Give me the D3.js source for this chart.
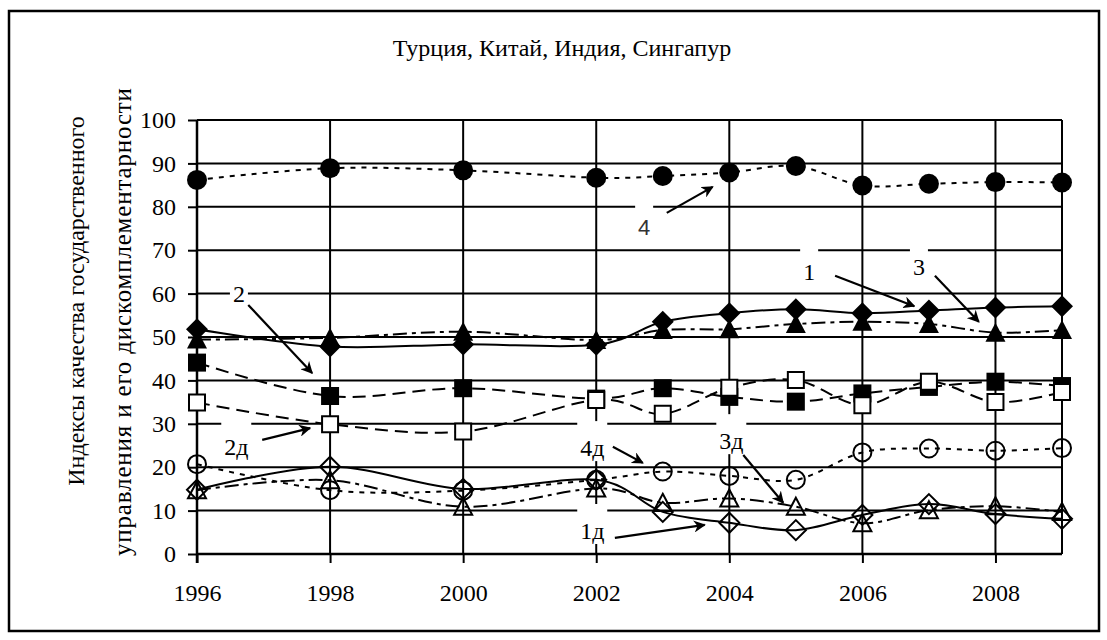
<!DOCTYPE html>
<html>
<head>
<meta charset="utf-8">
<script src="https://cdn.jsdelivr.net/npm/d3@7"></script>
<style>
  body { margin: 0; background: #fff; }
  text { font-family: "Liberation Serif", "Times New Roman", serif; fill: #000; }
</style>
</head>
<body>
<div id="chart"></div>
<script>
// Chart data
const years = [1996, 1998, 2000, 2002, 2003, 2004, 2005, 2006, 2007, 2008, 2009]
const s1 = [51.8, 47.8, 48.3, 48.2, 53.5, 55.5, 56.4, 55.5, 56.1, 56.8, 57.1]
const s2 = [44.1, 36.4, 38.2, 35.8, 38.2, 36.2, 35.1, 37.0, 38.5, 39.7, 38.7]
const s3 = [49.4, 49.8, 51.2, 49.3, 51.6, 51.8, 53.0, 53.5, 53.0, 51.0, 51.6]
const s4 = [86.2, 88.9, 88.4, 86.7, 87.1, 87.9, 89.4, 84.9, 85.3, 85.7, 85.6]
const d1 = [14.8, 20.1, 15.0, 17.1, 9.7, 7.2, 5.5, 9.0, 11.5, 9.2, 8.1]
const d2 = [34.9, 29.9, 28.2, 35.5, 32.3, 38.3, 40.1, 34.3, 39.7, 35.0, 37.3]
const d3v = [14.7, 17.0, 10.9, 15.1, 11.8, 12.8, 10.9, 7.1, 10.1, 11.0, 9.7]
const d4 = [20.7, 14.7, 14.6, 17.1, 19.0, 18.0, 17.1, 23.4, 24.3, 23.8, 24.4]

const yTicks = [0, 10, 20, 30, 40, 50, 60, 70, 80, 90, 100]
const xTicks = [1996, 1998, 2000, 2002, 2004, 2006, 2008]

const title = 'Турция, Китай, Индия, Сингапур'
const yTitle = ['Индексы качества государственного', 'управления и его дискомплементарности']

// label text, label position (year, value), arrow start and end (year, value)
const notes = [
  { t: '2', at: [1996.63, 59.9], from: [1996.77, 57.4], to: [1997.73, 41.7] },
  { t: '2д', at: [1996.59, 24.7], from: [1996.98, 26.3], to: [1997.70, 29.0] },
  { t: '4', at: [2002.72, 75.3], from: [2003.06, 78.6], to: [2003.75, 84.6], sans: true },
  { t: '1', at: [2005.20, 65.0], from: [2005.59, 64.1], to: [2006.78, 57.1] },
  { t: '3', at: [2006.85, 66.1], from: [2007.09, 64.1], to: [2007.75, 53.5] },
  { t: '4д', at: [2001.94, 24.4], from: [2002.25, 24.7], to: [2002.70, 21.0] },
  { t: '3д', at: [2004.03, 26.0], from: [2004.21, 22.8], to: [2004.81, 11.8] },
  { t: '1д', at: [2001.94, 5.3], from: [2002.28, 3.7], to: [2003.63, 6.7] }
]

const width = 1107
const height = 640

const svg = d3.select('#chart')
  .append('svg')
  .attr('width', width)
  .attr('height', height)

// outer frame
svg.append('rect')
  .attr('x', 9).attr('y', 11)
  .attr('width', 1090).attr('height', 620)
  .attr('fill', 'none').attr('stroke', '#000').attr('stroke-width', 2.5)

const x = d3.scaleLinear().domain([1996, 2009]).range([197, 1062])
const y = d3.scaleLinear().domain([0, 100]).range([554, 120])

// gridlines
const grid = svg.append('g')
grid.selectAll('.hg')
  .data(yTicks.filter(d => d > 0))
  .enter().append('line')
  .attr('x1', x(1996)).attr('x2', x(2009))
  .attr('y1', d => y(d)).attr('y2', d => y(d))
  .attr('stroke', '#000').attr('stroke-width', 2)
grid.selectAll('.vg')
  .data(xTicks.filter(d => d > 1996))
  .enter().append('line')
  .attr('x1', d => x(d)).attr('x2', d => x(d))
  .attr('y1', y(100)).attr('y2', y(0))
  .attr('stroke', '#000').attr('stroke-width', 2)
grid.append('line')
  .attr('x1', x(2009)).attr('x2', x(2009))
  .attr('y1', y(100)).attr('y2', y(0))
  .attr('stroke', '#000').attr('stroke-width', 2)

// axes
const yAxis = d3.axisLeft(y).tickValues(yTicks).tickSize(9).tickPadding(12)
const xAxis = d3.axisBottom(x).tickValues(xTicks).tickFormat(d3.format('d')).tickSize(9).tickPadding(21)

const gy = svg.append('g').attr('transform', `translate(${x(1996)},0)`).call(yAxis)
const gx = svg.append('g').attr('transform', `translate(0,${y(0)})`).call(xAxis)
;[gx, gy].forEach(g => {
  g.select('.domain').remove()
  g.selectAll('line').attr('stroke', '#000').attr('stroke-width', 2)
  g.selectAll('text').attr('font-size', 24).attr('font-family', 'Liberation Serif').attr('fill', '#000')
})
svg.append('line')
  .attr('x1', x(1996)).attr('x2', x(1996))
  .attr('y1', y(100)).attr('y2', y(0) + 9)
  .attr('stroke', '#000').attr('stroke-width', 2.5)
svg.append('line')
  .attr('x1', x(1996)).attr('x2', x(2009))
  .attr('y1', y(0)).attr('y2', y(0))
  .attr('stroke', '#000').attr('stroke-width', 2.5)

// title
svg.append('text')
  .attr('x', 562).attr('y', 56)
  .attr('text-anchor', 'middle')
  .attr('font-size', 24)
  .text(title)

// y axis title
svg.append('text')
  .attr('transform', 'translate(84,301) rotate(-90)')
  .attr('text-anchor', 'middle').attr('font-size', 24)
  .text(yTitle[0])
svg.append('text')
  .attr('transform', 'translate(131,322) rotate(-90)')
  .attr('text-anchor', 'middle').attr('font-size', 25)
  .attr('textLength', 468).attr('lengthAdjust', 'spacing')
  .text(yTitle[1])

// annotation label boxes (under the lines)
const noteG = svg.append('g')
noteG.selectAll('rect')
  .data(notes)
  .enter().append('rect')
  .attr('x', d => x(d.at[0]) - (d.t.length * 12 + 6) / 2)
  .attr('y', d => y(d.at[1]) - 27)
  .attr('width', d => d.t.length * 12 + 6)
  .attr('height', 40)
  .attr('fill', '#fff')

// series
const series = [
  { v: s1, mark: 'diamond', fill: '#000', dash: null },
  { v: s2, mark: 'square', fill: '#000', dash: '13,7' },
  { v: s3, mark: 'triangle', fill: '#000', dash: '14,5,4,5' },
  { v: s4, mark: 'circle', fill: '#000', dash: '5,6' },
  { v: d1, mark: 'diamond', fill: 'none', dash: null },
  { v: d2, mark: 'square', fill: '#fff', dash: '13,7' },
  { v: d3v, mark: 'triangle', fill: 'none', dash: '14,5,4,5' },
  { v: d4, mark: 'circle', fill: 'none', dash: '5,6' }
]

const shapes = {
  diamond: (r) => `M0,${-r}L${r},0L0,${r}L${-r},0Z`,
  square: (r) => `M${-r},${-r}H${r}V${r}H${-r}Z`,
  triangle: (r) => `M0,${-r}L${r},${r * 0.9}L${-r},${r * 0.9}Z`,
  circle: (r) => `M${r},0A${r},${r} 0 1,1 ${-r},0A${r},${r} 0 1,1 ${r},0Z`
}
const sizes = { diamond: 11, square: 9, triangle: 10, circle: 10 }

const line = d3.line()
  .x((d, i) => x(years[i]))
  .y(d => y(d))
  .curve(d3.curveCardinal.tension(0))

series.forEach(s => {
  const g = svg.append('g')
  g.append('path')
    .datum(s.v)
    .attr('d', line)
    .attr('fill', 'none')
    .attr('stroke', '#000')
    .attr('stroke-width', 2)
    .attr('stroke-dasharray', s.dash)
  const open = s.fill !== '#000'
  g.selectAll('path.m')
    .data(s.v)
    .enter().append('path')
    .attr('class', 'm')
    .attr('transform', (d, i) => `translate(${x(years[i])},${y(d)})`)
    .attr('d', shapes[s.mark](open ? sizes[s.mark] - 1 : sizes[s.mark]))
    .attr('fill', s.fill)
    .attr('stroke', open ? '#000' : 'none')
    .attr('stroke-width', 2)
})

// arrows
svg.append('defs').append('marker')
  .attr('id', 'arrow')
  .attr('viewBox', '0 0 10 10')
  .attr('refX', 9).attr('refY', 5)
  .attr('markerWidth', 5.5).attr('markerHeight', 5.5)
  .attr('orient', 'auto')
  .append('path')
  .attr('d', 'M0,0L10,5L0,10L3,5Z')
  .attr('fill', '#000')

svg.append('g').selectAll('line')
  .data(notes)
  .enter().append('line')
  .attr('x1', d => x(d.from[0])).attr('y1', d => y(d.from[1]))
  .attr('x2', d => x(d.to[0])).attr('y2', d => y(d.to[1]))
  .attr('stroke', '#000').attr('stroke-width', 2.2)
  .attr('marker-end', 'url(#arrow)')

svg.append('g').selectAll('text')
  .data(notes)
  .enter().append('text')
  .attr('x', d => x(d.at[0]))
  .attr('y', d => y(d.at[1]) + 8)
  .attr('text-anchor', 'middle')
  .style('font-family', d => d.sans ? 'Liberation Sans' : null)
  .style('fill', d => d.sans ? '#333' : '#000')
  .attr('font-size', d => d.sans ? 22 : 24)
  .text(d => d.t)
</script>
</body>
</html>
